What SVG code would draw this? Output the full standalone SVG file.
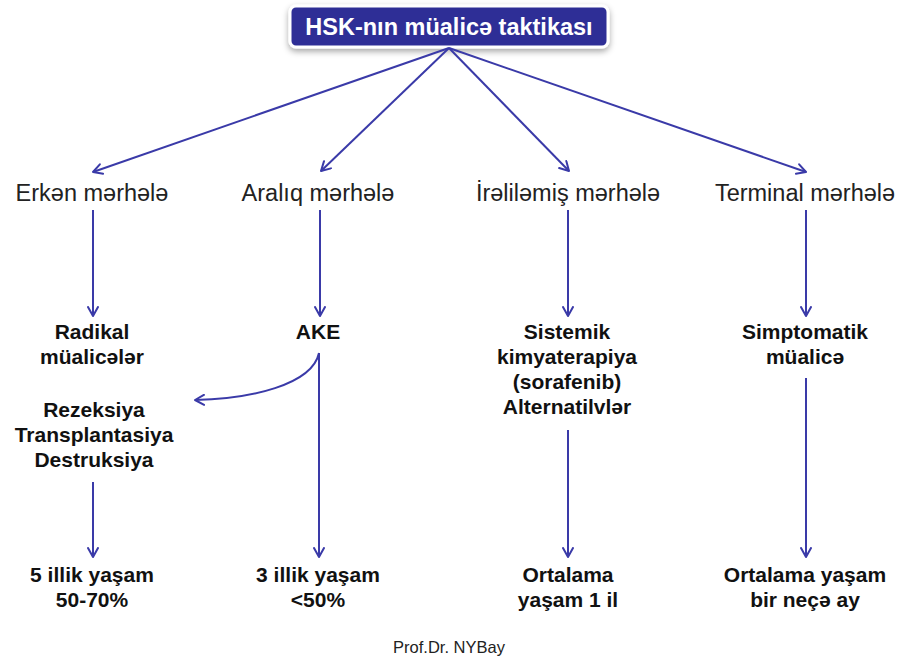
<svg xmlns="http://www.w3.org/2000/svg" width="900" height="660" viewBox="0 0 900 660">
<defs>
<marker id="ah" viewBox="0 0 12 12" refX="10" refY="6" markerWidth="12" markerHeight="12" markerUnits="userSpaceOnUse" orient="auto">
<path d="M1,1 L10,6 L1,11" fill="none" stroke="#3a3aa8" stroke-width="2" stroke-linecap="round" stroke-linejoin="round"/>
</marker>
<filter id="sh" x="-10%" y="-30%" width="120%" height="170%">
<feDropShadow dx="0" dy="3" stdDeviation="3" flood-color="#000" flood-opacity="0.35"/>
</filter>
</defs>
<style>
.c{fill:none;stroke:#3a3aa8;stroke-width:2;marker-end:url(#ah)}
.st{font-family:"Liberation Sans",Arial,sans-serif;font-size:23.5px;fill:#222;text-anchor:middle}
.b{font-family:"Liberation Sans",Arial,sans-serif;font-size:21px;font-weight:bold;fill:#111;text-anchor:middle}
</style>
<rect width="900" height="660" fill="#fff"/>
<g id="title">
<rect x="290" y="6" width="318" height="41" rx="6" fill="#2e2e96" stroke="#fff" stroke-width="3" filter="url(#sh)"/>
<text x="449" y="35" font-family="Liberation Sans,Arial,sans-serif" font-size="23.5" font-weight="bold" fill="#fff" text-anchor="middle">HSK-nın müalicə taktikası</text>
</g>
<g id="connectors">
<line class="c" x1="449" y1="48" x2="93" y2="172"/>
<line class="c" x1="449" y1="48" x2="321" y2="171"/>
<line class="c" x1="449" y1="48" x2="569" y2="171"/>
<line class="c" x1="449" y1="48" x2="806" y2="172"/>
<line class="c" x1="93" y1="210" x2="93" y2="316"/>
<line class="c" x1="320" y1="210" x2="320" y2="316"/>
<line class="c" x1="568" y1="210" x2="568" y2="316"/>
<line class="c" x1="806" y1="210" x2="806" y2="316"/>
<path class="c" d="M319,353 C312,385 250,399 195,400"/>
<line class="c" x1="93" y1="482" x2="93" y2="557"/>
<line class="c" x1="319" y1="353" x2="319" y2="557"/>
<line class="c" x1="568" y1="430" x2="568" y2="557"/>
<line class="c" x1="806" y1="378" x2="806" y2="557"/>
</g>
<g id="erken"><text class="st" x="92" y="201">Erkən mərhələ</text></g>
<g id="araliq"><text class="st" x="318" y="201">Aralıq mərhələ</text></g>
<g id="ireli"><text class="st" x="568" y="201">İrəliləmiş mərhələ</text></g>
<g id="terminal"><text class="st" x="805" y="201">Terminal mərhələ</text></g>
<g id="radikal"><text class="b" x="92" y="339">Radikal</text><text class="b" x="92" y="364">müalicələr</text></g>
<g id="ake"><text class="b" x="318" y="339">AKE</text></g>
<g id="sistemik"><text class="b" x="567" y="339">Sistemik</text><text class="b" x="567" y="364">kimyaterapiya</text><text class="b" x="567" y="389">(sorafenib)</text><text class="b" x="567" y="414">Alternatilvlər</text></g>
<g id="simptomatik"><text class="b" x="805" y="339">Simptomatik</text><text class="b" x="805" y="364">müalicə</text></g>
<g id="rezeksiya"><text class="b" x="94" y="417">Rezeksiya</text><text class="b" x="94" y="442">Transplantasiya</text><text class="b" x="94" y="467">Destruksiya</text></g>
<g id="sag5"><text class="b" x="92" y="582">5 illik yaşam</text><text class="b" x="92" y="607">50-70%</text></g>
<g id="sag3"><text class="b" x="318" y="582">3 illik yaşam</text><text class="b" x="318" y="607">&lt;50%</text></g>
<g id="ort1"><text class="b" x="568" y="582">Ortalama</text><text class="b" x="568" y="607">yaşam 1 il</text></g>
<g id="ort2"><text class="b" x="805" y="582">Ortalama yaşam</text><text class="b" x="805" y="607">bir neçə ay</text></g>
<g id="author"><text x="449" y="653" font-family="Liberation Sans,Arial,sans-serif" font-size="16.5" fill="#222" text-anchor="middle">Prof.Dr. NYBay</text></g>
</svg>
